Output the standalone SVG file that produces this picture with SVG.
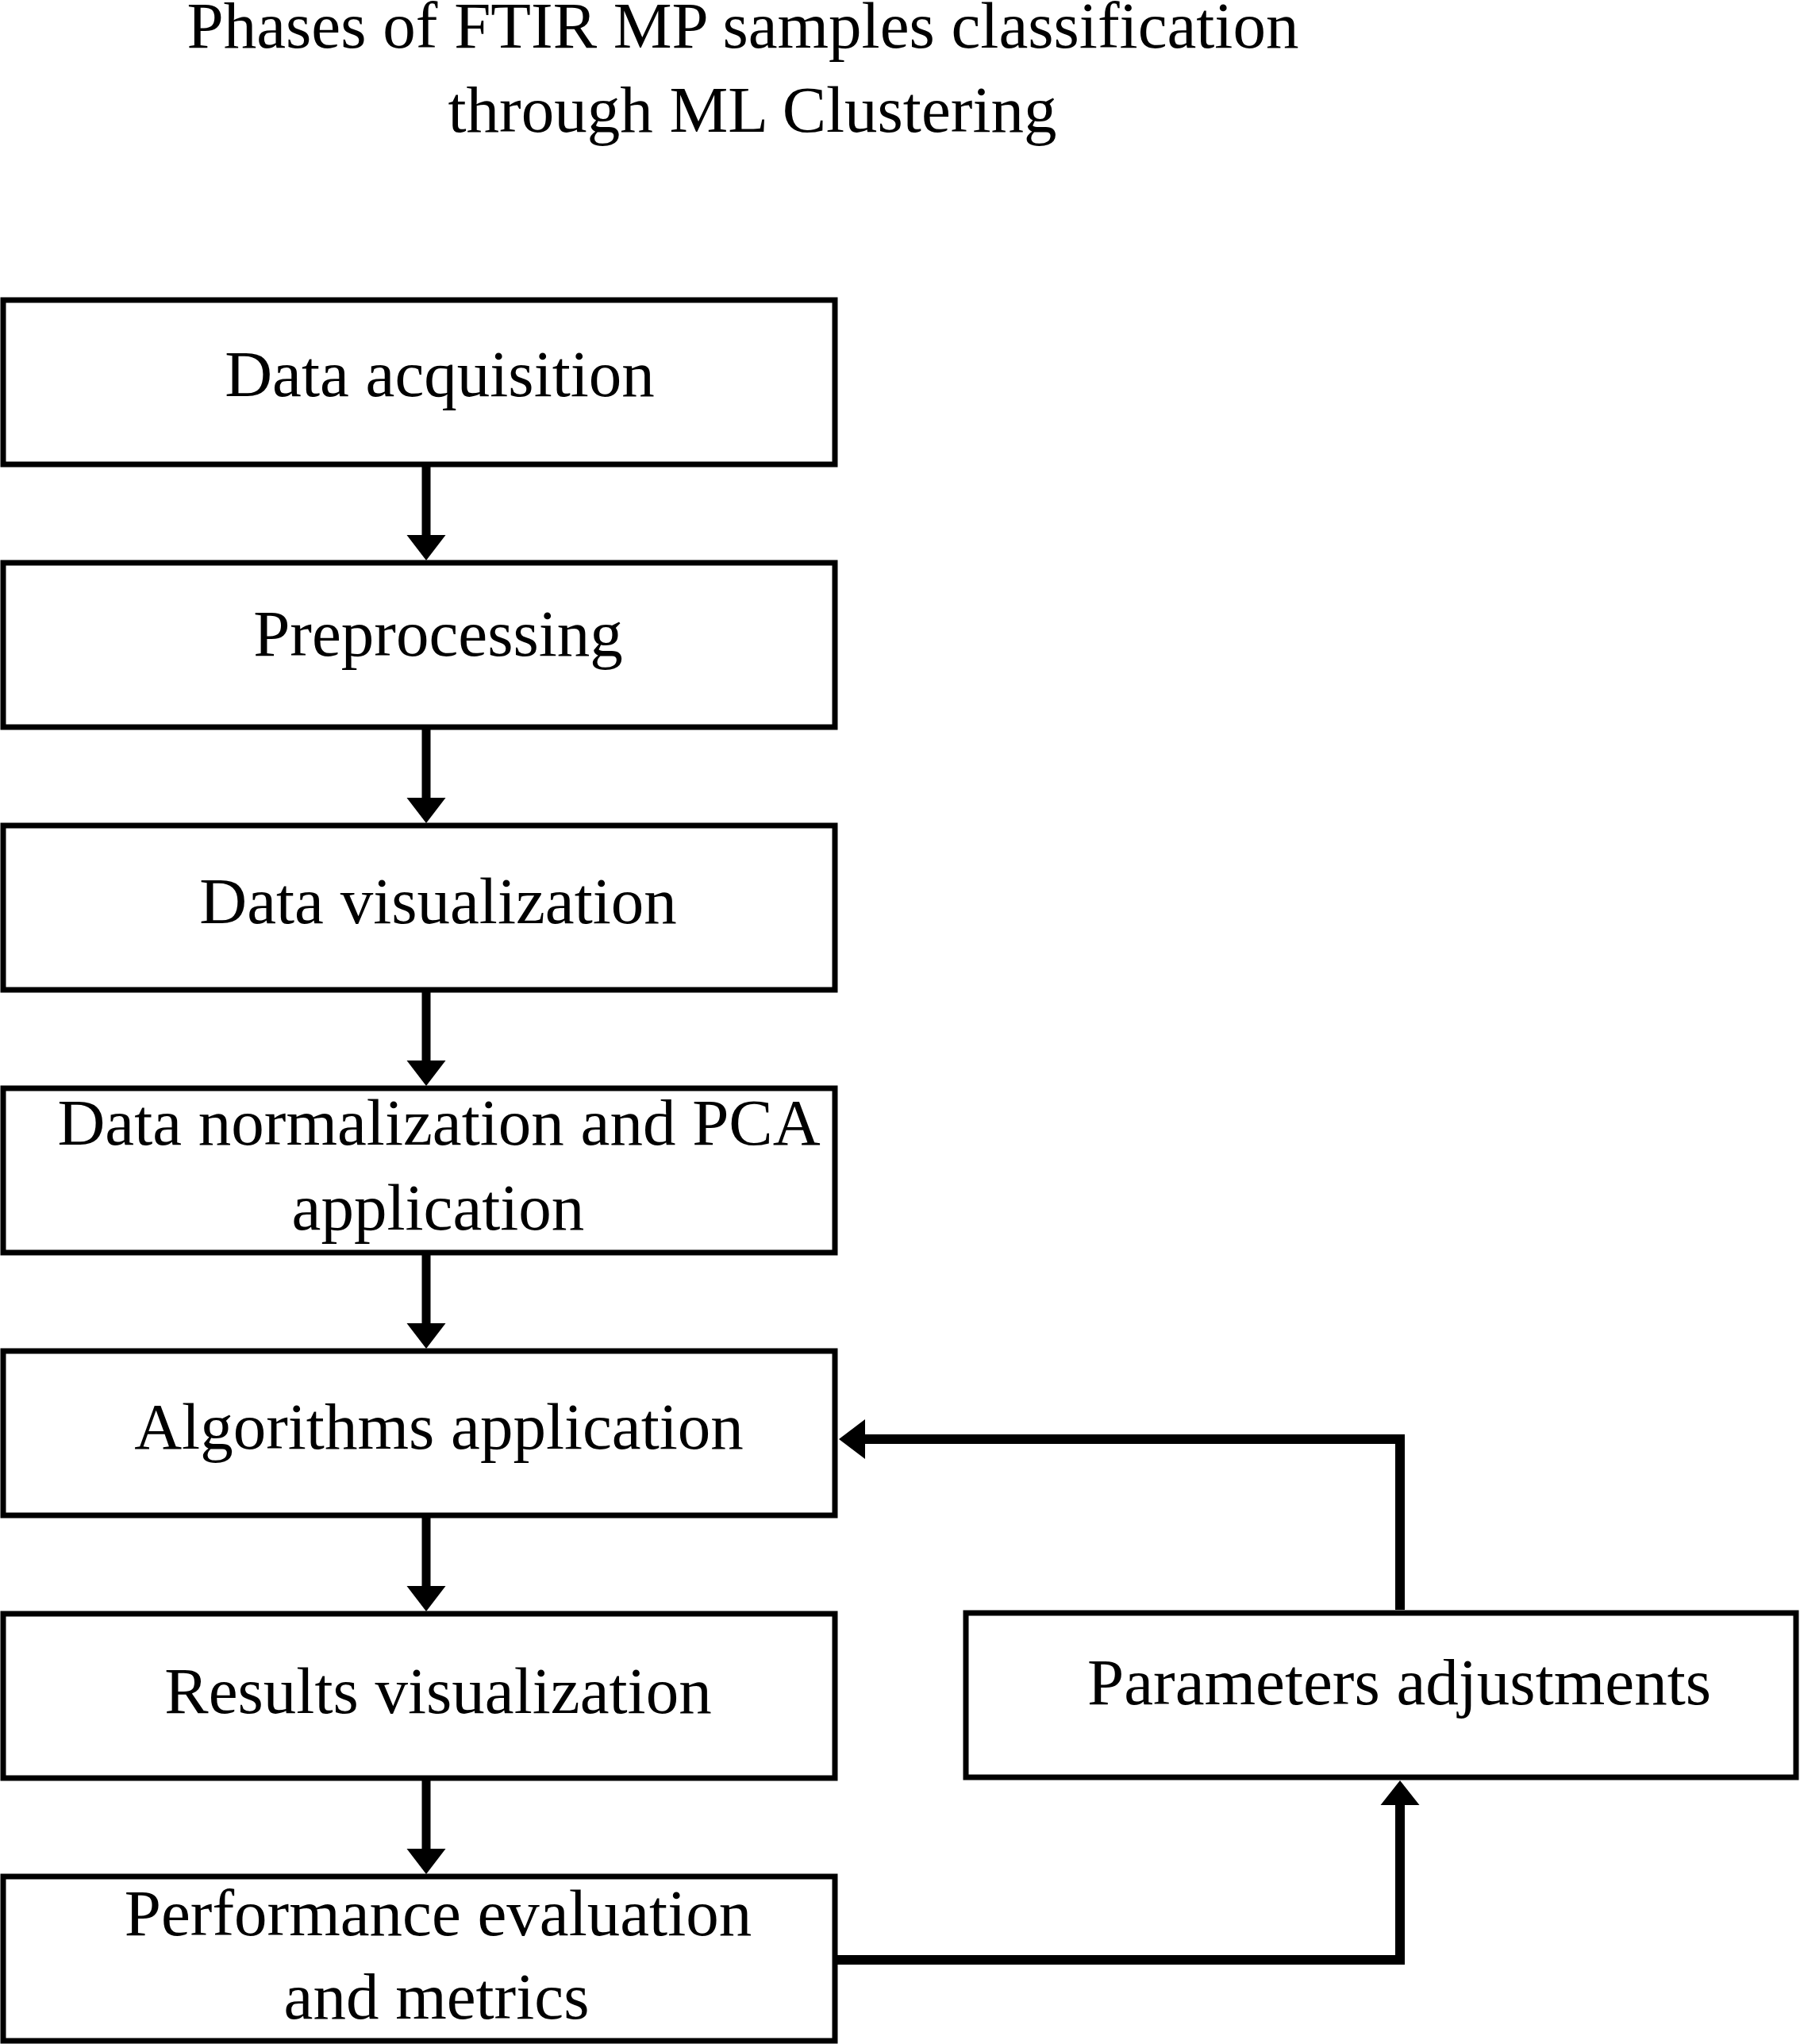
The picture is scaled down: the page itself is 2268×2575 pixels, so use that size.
<svg xmlns="http://www.w3.org/2000/svg" width="2268" height="2575" viewBox="0 0 2268 2575">
<style>
.box{fill:#fff;stroke:#000;stroke-width:7}
.t{font-family:"Liberation Serif","Times New Roman",serif;font-size:83px;fill:#000;text-anchor:middle}
.ln{fill:none;stroke:#000;stroke-width:11;stroke-linejoin:miter;stroke-linecap:butt}
.hd{fill:#000}
</style>
<rect width="2268" height="2575" fill="#fff"/>
<g id="title">
<text class="t" x="936" y="60">Phases of FTIR MP samples classification</text>
<text class="t" x="948" y="166">through ML Clustering</text>
</g>
<g id="n1"><rect class="box" x="4" y="378" width="1048" height="207"/><text class="t" x="554" y="499">Data acquisition</text></g>
<g id="n2"><rect class="box" x="4" y="709" width="1048" height="207"/><text class="t" x="552" y="826">Preprocessing</text></g>
<g id="n3"><rect class="box" x="4" y="1040" width="1048" height="207"/><text class="t" x="552" y="1163">Data visualization</text></g>
<g id="n4"><rect class="box" x="4" y="1371" width="1048" height="207"/><text class="t" x="553" y="1442">Data normalization and PCA</text><text class="t" x="552" y="1549">application</text></g>
<g id="n5"><rect class="box" x="4" y="1702" width="1048" height="207"/><text class="t" x="553" y="1825">Algorithms application</text></g>
<g id="n6"><rect class="box" x="4" y="2033" width="1048" height="207"/><text class="t" x="552" y="2158">Results visualization</text></g>
<g id="n7"><rect class="box" x="4" y="2364" width="1048" height="207"/><text class="t" x="552" y="2438">Performance evaluation</text><text class="t" x="550" y="2543">and metrics</text></g>
<g id="n8"><rect class="box" x="1217" y="2032" width="1046" height="207"/><text class="t" x="1763" y="2147">Parameters adjustments</text></g>
<g id="connectors">
<line class="ln" x1="537" y1="588" x2="537" y2="676"/><polygon class="hd" points="512.5,674 561.5,674 537,706"/>
<line class="ln" x1="537" y1="919" x2="537" y2="1007"/><polygon class="hd" points="512.5,1005 561.5,1005 537,1037"/>
<line class="ln" x1="537" y1="1250" x2="537" y2="1338"/><polygon class="hd" points="512.5,1336 561.5,1336 537,1368"/>
<line class="ln" x1="537" y1="1581" x2="537" y2="1669"/><polygon class="hd" points="512.5,1667 561.5,1667 537,1699"/>
<line class="ln" x1="537" y1="1912" x2="537" y2="2000"/><polygon class="hd" points="512.5,1998 561.5,1998 537,2030"/>
<line class="ln" x1="537" y1="2243" x2="537" y2="2331"/><polygon class="hd" points="512.5,2329 561.5,2329 537,2361"/>
<polyline class="ln" style="stroke-width:12" points="1055,2469 1764,2469 1764,2271"/>
<polygon class="hd" points="1739.5,2274 1788.5,2274 1764,2243"/>
<polyline class="ln" style="stroke-width:12" points="1764,2028 1764,1813 1087,1813"/>
<polygon class="hd" points="1090,1788 1090,1838 1057,1813"/>
</g>
</svg>
